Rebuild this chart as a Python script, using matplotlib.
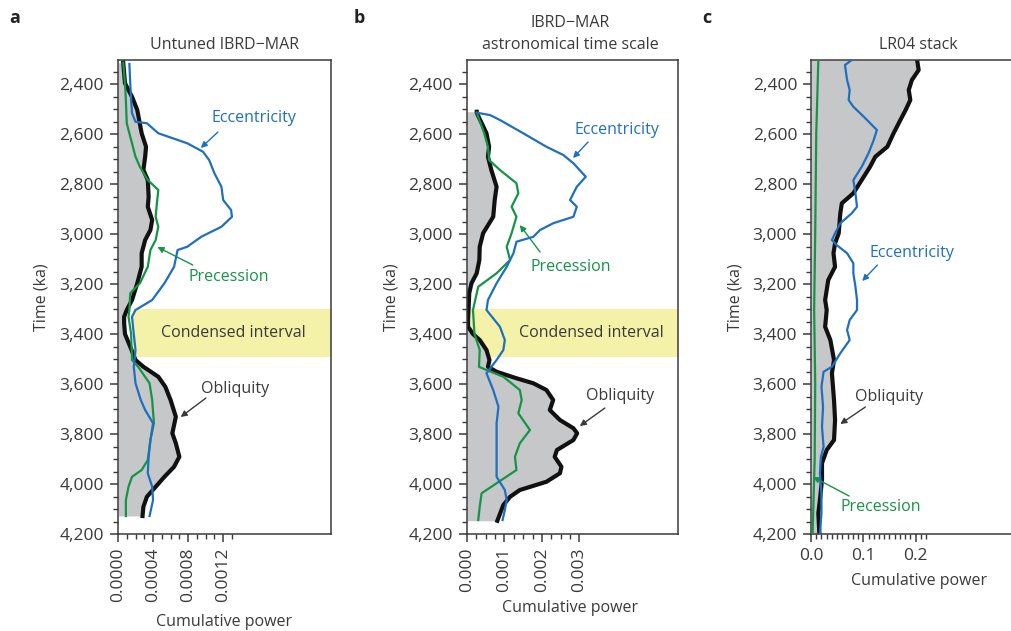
import matplotlib
matplotlib.use("Agg")
import matplotlib.pyplot as plt
import numpy as np
from matplotlib.ticker import FixedLocator, FuncFormatter

plt.rcParams["font.family"] = ["Open Sans", "DejaVu Sans"]

# ---- data ----
# panel a: untuned IBRD-MAR
a_obl_ka = [2315, 2397, 2451, 2504, 2597, 2651, 2691, 2744, 2784, 2851, 2891, 2944, 2984,
            3024, 3077, 3131, 3197, 3264, 3304, 3331, 3357, 3400, 3451, 3504, 3531, 3571,
            3611, 3664, 3731, 3797, 3837, 3891, 3931, 3971, 4011, 4051, 4091, 4128]
a_obl = [0.00006, 0.00008, 0.00016, 0.00022, 0.00027, 0.00032, 0.00031, 0.00029, 0.00034,
         0.00035, 0.00034, 0.00039, 0.00037, 0.00031, 0.00027, 0.00027, 0.00022, 0.00016,
         0.00010, 0.00007, 0.00007, 0.00008, 0.00014, 0.00020, 0.00029, 0.00046, 0.00054,
         0.00060, 0.00066, 0.00062, 0.00066, 0.00070, 0.00064, 0.00053, 0.00043, 0.00033,
         0.00029, 0.00028]
a_pre_ka = [2315, 2397, 2464, 2557, 2624, 2691, 2731, 2784, 2824, 2891, 2931, 2971, 3024,
            3064, 3131, 3197, 3237, 3304, 3331, 3400, 3504, 3531, 3597, 3664, 3757, 3824,
            3904, 3944, 3971, 4011, 4064, 4128]
a_pre = [0.00006, 0.00008, 0.00009, 0.00010, 0.00015, 0.00020, 0.00025, 0.00034, 0.00046,
         0.00044, 0.00043, 0.00046, 0.00043, 0.00037, 0.00034, 0.00025, 0.00014, 0.00013,
         0.00012, 0.00015, 0.00016, 0.00023, 0.00036, 0.00039, 0.00041, 0.00037, 0.00034,
         0.00027, 0.00016, 0.00012, 0.00009, 0.00009]
a_ecc_ka = [2320, 2397, 2464, 2517, 2551, 2557, 2597, 2637, 2671, 2704, 2757, 2811, 2864,
            2904, 2931, 2971, 3011, 3051, 3064, 3131, 3197, 3264, 3304, 3331, 3400, 3464,
            3531, 3597, 3664, 3704, 3757, 3824, 3891, 3957, 4011, 4064, 4128]
a_ecc = [0.00013, 0.00014, 0.00015, 0.00016, 0.00020, 0.00033, 0.00046, 0.00079, 0.00097,
         0.00104, 0.00110, 0.00118, 0.00120, 0.00129, 0.00130, 0.00118, 0.00095, 0.00079,
         0.00068, 0.00064, 0.00053, 0.00039, 0.00020, 0.00016, 0.00018, 0.00020, 0.00018,
         0.00020, 0.00026, 0.00031, 0.00040, 0.00037, 0.00035, 0.00034, 0.00039, 0.00040,
         0.00036]

# panel b: IBRD-MAR astronomical time scale
b_obl_ka = [2511, 2515, 2597, 2651, 2691, 2744, 2811, 2864, 2931, 2997, 3051, 3104, 3157,
            3197, 3237, 3344, 3371, 3400, 3424, 3464, 3504, 3531, 3551, 3577, 3597, 3624,
            3664, 3704, 3744, 3777, 3797, 3824, 3864, 3891, 3931, 3957, 3991, 4024, 4051,
            4084, 4147]
b_obl = [0.00026, 0.00026, 0.00052, 0.00059, 0.00056, 0.00065, 0.00079, 0.00074, 0.00070,
         0.00043, 0.00034, 0.00033, 0.00026, 0.00012, 0.00006, 0.00003, 0.00003, 0.00016,
         0.00034, 0.00052, 0.00060, 0.00056, 0.00079, 0.00132, 0.00177, 0.00212, 0.00230,
         0.00221, 0.00248, 0.00284, 0.00294, 0.00284, 0.00240, 0.00234, 0.00252, 0.00248,
         0.00212, 0.00141, 0.00115, 0.00097, 0.00081]
b_pre_ka = [2515, 2597, 2651, 2704, 2744, 2797, 2837, 2891, 2931, 2997, 3051, 3104, 3157,
            3211, 3304, 3400, 3464, 3531, 3544, 3571, 3624, 3664, 3717, 3784, 3837, 3891,
            3944, 3997, 4037, 4091, 4144]
b_pre = [0.00026, 0.00046, 0.00056, 0.00059, 0.00088, 0.00132, 0.00137, 0.00119, 0.00132,
         0.00119, 0.00106, 0.00115, 0.00079, 0.00030, 0.00016, 0.00020, 0.00034, 0.00032,
         0.00052, 0.00097, 0.00141, 0.00146, 0.00137, 0.00168, 0.00141, 0.00128, 0.00132,
         0.00079, 0.00039, 0.00034, 0.00030]
b_ecc_ka = [2515, 2524, 2544, 2597, 2651, 2684, 2717, 2771, 2811, 2864, 2891, 2931, 2957,
            2984, 3011, 3031, 3077, 3131, 3197, 3264, 3304, 3371, 3424, 3464, 3504, 3557,
            3624, 3691, 3757, 3837, 3904, 3971, 4024, 4064, 4104, 4144]
b_ecc = [0.00026, 0.00061, 0.00088, 0.00150, 0.00212, 0.00257, 0.00284, 0.00317, 0.00293,
         0.00275, 0.00293, 0.00284, 0.00230, 0.00195, 0.00177, 0.00132, 0.00124, 0.00106,
         0.00079, 0.00056, 0.00052, 0.00088, 0.00101, 0.00097, 0.00079, 0.00052, 0.00070,
         0.00084, 0.00079, 0.00079, 0.00079, 0.00079, 0.00101, 0.00106, 0.00101, 0.00095]

# panel c: LR04 stack
c_obl_ka = [2304, 2344, 2384, 2424, 2464, 2504, 2544, 2597, 2651, 2691, 2731, 2784, 2837,
            2877, 2917, 2997, 3037, 3077, 3131, 3184, 3264, 3304, 3371, 3424, 3504, 3557,
            3664, 3744, 3824, 3864, 3917, 3984, 4064, 4117, 4200]
c_obl = [0.203, 0.206, 0.193, 0.187, 0.190, 0.181, 0.171, 0.158, 0.146, 0.123, 0.113, 0.097,
         0.081, 0.059, 0.056, 0.053, 0.046, 0.043, 0.046, 0.033, 0.027, 0.030, 0.027, 0.037,
         0.044, 0.040, 0.044, 0.046, 0.044, 0.030, 0.021, 0.021, 0.017, 0.014, 0.016]
c_pre_ka = [2304, 2600, 3000, 3300, 3600, 3900, 4200]
c_pre = [0.014, 0.010, 0.008, 0.006, 0.008, 0.007, 0.003]
c_ecc_ka = [2304, 2324, 2384, 2424, 2464, 2491, 2531, 2584, 2624, 2677, 2731, 2784, 2837,
            2891, 2917, 2957, 2997, 3024, 3044, 3077, 3117, 3157, 3211, 3264, 3304, 3344,
            3384, 3424, 3477, 3531, 3551, 3611, 3691, 3771, 3851, 3891, 3957, 4037, 4117,
            4200]
c_ecc = [0.078, 0.065, 0.069, 0.074, 0.072, 0.081, 0.101, 0.126, 0.120, 0.110, 0.097, 0.081,
         0.085, 0.088, 0.078, 0.056, 0.046, 0.040, 0.049, 0.069, 0.081, 0.081, 0.085, 0.088,
         0.088, 0.074, 0.069, 0.074, 0.056, 0.040, 0.024, 0.020, 0.023, 0.021, 0.024, 0.019,
         0.017, 0.020, 0.020, 0.017]

condensed = (3300, 3490)

# ---- style ----
TXT = "#3a3a3a"
BLUE = "#1f6fc0"
GREEN = "#159447"
GRAY = "#c6c7c9"
YELLOW = "#f4f1a8"

fig = plt.figure(figsize=(10.11, 6.31), dpi=100)

ax_a = fig.add_axes([0.1167, 0.1537, 0.2107, 0.7512])
ax_b = fig.add_axes([0.4619, 0.1537, 0.2087, 0.7512])
ax_c = fig.add_axes([0.8022, 0.1537, 0.1990, 0.7512])


def base(ax, xmax, majors, minors, fmt, rot):
    ax.set_ylim(4200, 2304)
    ax.set_xlim(0, xmax)
    ax.yaxis.set_major_locator(FixedLocator(np.arange(2400, 4201, 200)))
    ax.yaxis.set_minor_locator(FixedLocator(np.arange(2300, 4201, 50)))
    ax.yaxis.set_major_formatter(FuncFormatter(lambda v, p: f"{int(v):,}"))
    ax.xaxis.set_major_locator(FixedLocator(majors))
    ax.xaxis.set_minor_locator(FixedLocator(minors))
    ax.xaxis.set_major_formatter(FuncFormatter(lambda v, p: fmt.format(v)))
    ax.tick_params(which="major", length=6, width=1.1, color=TXT, labelcolor=TXT,
                   labelsize=12.5, pad=4)
    ax.tick_params(which="minor", length=3.5, width=1.0, color=TXT)
    ax.tick_params(axis="x", labelrotation=rot)
    for s in ax.spines.values():
        s.set_color(TXT)
        s.set_linewidth(1.1)
    ax.set_ylabel("Time (ka)", fontsize=11.5, color=TXT)
    ax.set_xlabel("Cumulative power", fontsize=11.5, color=TXT)


def curves(ax, obl_ka, obl, pre_ka, pre, ecc_ka, ecc):
    ax.fill_betweenx(obl_ka, 0, obl, color=GRAY, lw=0, zorder=1)
    ax.plot(pre, pre_ka, color=GREEN, lw=1.6, zorder=3, solid_joinstyle="round")
    ax.plot(ecc, ecc_ka, color=BLUE, lw=1.6, zorder=4, solid_joinstyle="round")
    ax.plot(obl, obl_ka, color="#111111", lw=3.0, zorder=2, solid_joinstyle="round")


def note(ax, text, color, txy, start, tip, fs=11.5):
    ax.text(txy[0], txy[1], text, color=color, fontsize=fs, ha="center", va="center")
    ax.annotate("", xy=tip, xytext=start,
                arrowprops=dict(arrowstyle="-|>", color=color, lw=1.0,
                                mutation_scale=9, shrinkA=0, shrinkB=0))


# panel a
base(ax_a, 0.00243, [0, 0.0004, 0.0008, 0.0012], np.arange(0, 0.00131, 0.0001), "{:.4f}", 90)
ax_a.axhspan(*condensed, xmin=0.07, color=YELLOW, lw=0, zorder=0)
curves(ax_a, a_obl_ka, a_obl, a_pre_ka, a_pre, a_ecc_ka, a_ecc)
ax_a.text(0.001315, 3396, "Condensed interval", color=TXT, fontsize=11.5, ha="center", va="center")
note(ax_a, "Eccentricity", BLUE, (0.00155, 2536), (0.00114, 2592), (0.000945, 2656))
note(ax_a, "Precession", GREEN, (0.00126, 3172), (0.000853, 3124), (0.00045, 3052))
note(ax_a, "Obliquity", TXT, (0.00134, 3620), (0.001003, 3656), (0.000715, 3732))
ax_a.yaxis.set_label_coords(-0.323, 0.5)
ax_a.xaxis.set_label_coords(0.5, -0.169)
ax_a.text(0.5, 1.015, "Untuned IBRD\u2212MAR", transform=ax_a.transAxes, ha="center",
          va="bottom", fontsize=11.5, color=TXT)

# panel b
base(ax_b, 0.00563, [0, 0.001, 0.002, 0.003], np.arange(0, 0.00301, 0.00025), "{:.3f}", 90)
ax_b.axhspan(*condensed, xmin=0.02, color=YELLOW, lw=0, zorder=0)
curves(ax_b, b_obl_ka, b_obl, b_pre_ka, b_pre, b_ecc_ka, b_ecc)
ax_b.text(0.00331, 3396, "Condensed interval", color=TXT, fontsize=11.5, ha="center", va="center")
note(ax_b, "Eccentricity", BLUE, (0.0040, 2584), (0.00323, 2632), (0.00283, 2696))
note(ax_b, "Precession", GREEN, (0.00277, 3132), (0.00195, 3072), (0.00141, 2964))
note(ax_b, "Obliquity", TXT, (0.00408, 3648), (0.00368, 3696), (0.00301, 3768))
ax_b.yaxis.set_label_coords(-0.322, 0.5)
ax_b.xaxis.set_label_coords(0.49, -0.139)
ax_b.text(0.49, 1.015, "IBRD\u2212MAR\nastronomical time scale", transform=ax_b.transAxes,
          ha="center", va="bottom", fontsize=11.5, color=TXT, linespacing=1.5)

# panel c
base(ax_c, 0.385, [0, 0.1, 0.2], np.arange(0, 0.2201, 0.01), "{:.1f}", 0)
ax_c.spines["right"].set_visible(False)
curves(ax_c, c_obl_ka, c_obl, c_pre_ka, c_pre, c_ecc_ka, c_ecc)
note(ax_c, "Eccentricity", BLUE, (0.194, 3076), (0.127, 3124), (0.098, 3188))
note(ax_c, "Obliquity", TXT, (0.15, 3652), (0.104, 3692), (0.056, 3760))
note(ax_c, "Precession", GREEN, (0.133, 4092), (0.073, 4048), (0.004, 3972))
ax_c.yaxis.set_label_coords(-0.335, 0.5)
ax_c.xaxis.set_label_coords(0.535, -0.082)
ax_c.text(0.535, 1.015, "LR04 stack", transform=ax_c.transAxes, ha="center",
          va="bottom", fontsize=11.5, color=TXT)

for lbl, x in (("a", 0.009), ("b", 0.350), ("c", 0.695)):
    fig.text(x, 0.972, lbl, fontsize=13, fontweight="bold", color="#222222", va="center")

fig.savefig("out.png", dpi=100)
